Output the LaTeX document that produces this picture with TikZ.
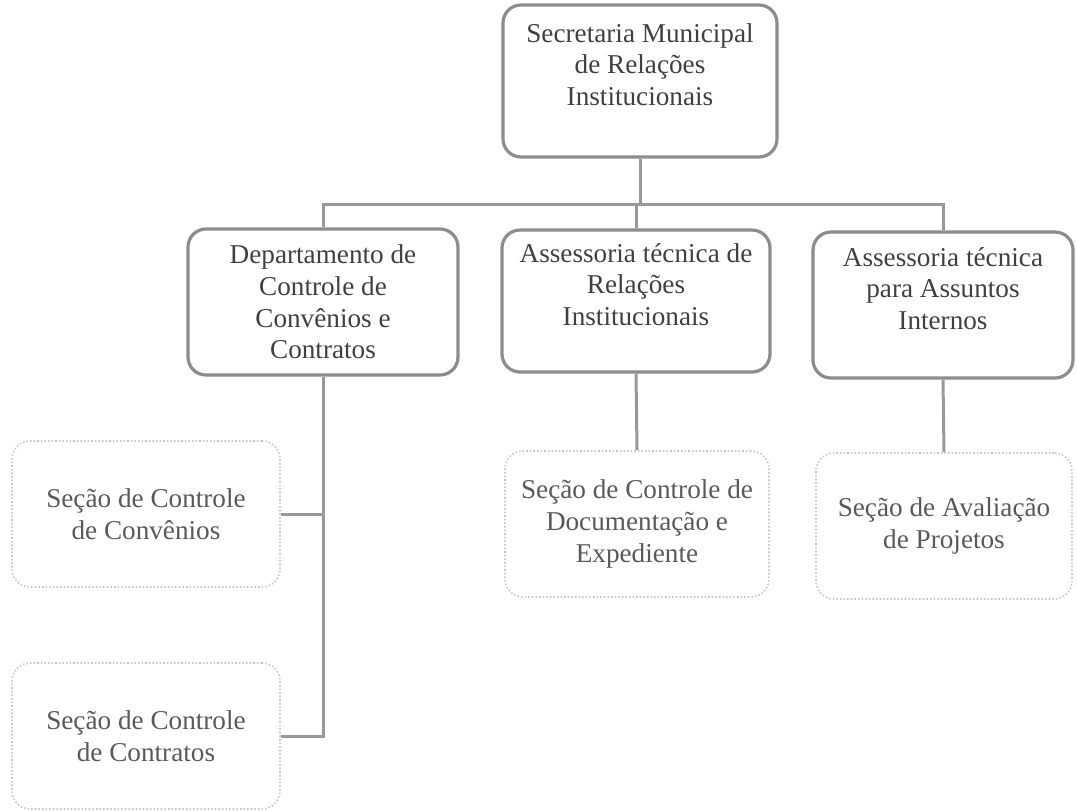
\documentclass[tikz,border=0pt]{standalone}
\usepackage{fontspec}
\setmainfont{Liberation Serif}
\begin{document}
\begin{tikzpicture}[
        x=0.5pt, y=-0.5pt,
        unitn/.style={draw=black!45, line width=1.6pt, rounded corners=9pt, align=center,
            text=black!75, font=\fontsize{13.6}{15.8}\selectfont, inner sep=2pt},
        secn/.style={draw=black!22, line width=0.8pt, densely dotted, rounded corners=9pt,
            align=center, text=black!65, font=\fontsize{13.6}{15.8}\selectfont, inner sep=2pt,
            minimum width=134pt, minimum height=73pt},
        link/.style={draw=black!40, line width=1.5pt},
    ]
    \useasboundingbox (0,0) rectangle (1077,810);
    % top level
    \node[unitn, minimum width=137pt, minimum height=76pt](sec) at (640,81)
        {Secretaria Municipal\\de Relações\\Institucionais\\[1pt]};
    % second level
    \node[unitn, minimum width=135pt, minimum height=73pt](dept) at (323,302)
        {Departamento de\\Controle de\\Convênios e\\Contratos};
    \node[unitn, minimum width=134pt, minimum height=71pt](atr) at (636,301)
        {Assessoria técnica de\\Relações\\Institucionais\\[1pt]};
    \node[unitn, minimum width=130pt, minimum height=73pt](ata) at (943,305)
        {Assessoria técnica\\para Assuntos\\Internos\\[1pt]};
    % sections
    \node[secn](scv) at (146,514) {Seção de Controle\\de Convênios};
    \node[secn](sct) at (146,736) {Seção de Controle\\de Contratos};
    \node[secn, minimum width=132pt](sdc) at (637,524) {Seção de Controle de\\Documentação e\\Expediente};
    \node[secn, minimum width=128pt](sap) at (944,526) {Seção de Avaliação\\de Projetos};
    % connectors
    \coordinate (bus) at (640,204);
    \draw[link] (sec.south) -- (bus);
    \draw[link] (dept.north) |- (bus) -| (ata.north);
    \draw[link] (atr.north) -- (atr.north |- bus);
    \draw[link] (dept.south) |- (scv.east);
    \draw[link] (dept.south) |- (sct.east);
    \draw[link] (atr.south) -- (sdc.north);
    \draw[link] (ata.south) -- (sap.north);
\end{tikzpicture}
\end{document}
